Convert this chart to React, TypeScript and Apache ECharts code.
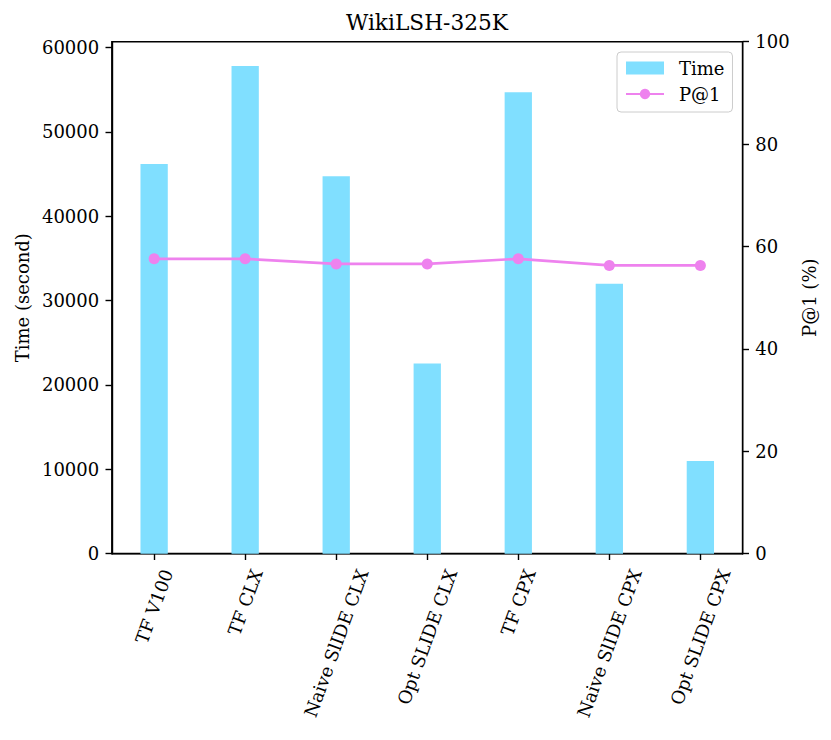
import { useEffect, useRef } from "react";
import * as echarts from "echarts";

const categories = [
  "TF V100",
  "TF CLX",
  "Naive SlIDE CLX",
  "Opt SLIDE CLX",
  "TF CPX",
  "Naive SlIDE CPX",
  "Opt SLIDE CPX",
];
const timeSeconds = [46200, 57800, 44750, 22560, 54700, 32000, 11000];
const precisionAt1 = [57.6, 57.6, 56.6, 56.6, 57.6, 56.3, 56.3];
const timeTicks = [0, 10000, 20000, 30000, 40000, 50000, 60000];
const precisionTicks = [0, 20, 40, 60, 80, 100];

const FONT = "DejaVu Serif";
const FS = 18;
const ROT = 70;

export default function App() {
  const ref = useRef<HTMLDivElement>(null);

  useEffect(() => {
    if (!ref.current) return;
    const chart = echarts.init(ref.current, null, { renderer: "svg" });

    // measure label lengths to center rotated labels like matplotlib
    const canvas = document.createElement("canvas");
    const ctx = canvas.getContext("2d")!;
    ctx.font = `${FS}px "${FONT}"`;
    const s = Math.sin((ROT * Math.PI) / 180);
    const c = Math.cos((ROT * Math.PI) / 180);
    const hM = FS * 1.17;
    const rich: Record<string, any> = {};
    categories.forEach((name, i) => {
      const L = ctx.measureText(name).width;
      const D = (L / 2) * s + (hM / 2) * c;
      rich["r" + i] = {
        fontFamily: FONT,
        fontSize: FS,
        color: "#000",
        padding: [2 * D * c, 2 * D * s, 0, 0],
      };
    });

    const idx = categories.map((_, i) => i);

    chart.setOption({
      animation: false,
      backgroundColor: "#fff",
      title: {
        text: "WikiLSH-325K",
        left: 427,
        textAlign: "center",
        top: 11,
        padding: 0,
        textStyle: { fontFamily: FONT, fontSize: 21.7, fontWeight: "normal", color: "#000" },
      },
      legend: {
        orient: "vertical",
        left: 617,
        top: 52,
        padding: [7, 8, 9, 8],
        itemWidth: 38,
        itemHeight: 13,
        itemGap: 8,
        borderColor: "#cccccc",
        borderWidth: 1,
        borderRadius: 4,
        textStyle: { fontFamily: FONT, fontSize: FS, color: "#000", lineHeight: 18, padding: [0, 0, 0, 10] },
        data: [{ name: "Time", icon: "rect" }, { name: "P@1" }],
      },
      grid: {
        left: 111.8,
        right: 88.3,
        top: 41.7,
        bottom: 186.3,
        show: true,
        borderColor: "#000",
        borderWidth: 1.4,
        backgroundColor: "transparent",
      },
      xAxis: {
        type: "value",
        min: -0.465,
        max: 6.465,
        splitLine: { show: false },
        axisLine: { onZero: false, lineStyle: { color: "#000", width: 1.4 } },
        axisTick: {
          customValues: idx,
          length: 6.3,
          lineStyle: { color: "#000", width: 1.4 },
        },
        axisLabel: {
          customValues: idx,
          rotate: ROT,
          align: "center",
          verticalAlign: "middle",
          margin: 12.6,
          color: "#000",
          fontFamily: FONT,
          fontSize: FS,
          formatter: (v: number) => {
            const i = Math.round(v);
            return `{r${i}|${categories[i]}}`;
          },
          rich,
        },
      },
      yAxis: [
        {
          type: "value",
          min: 0,
          max: 60690,
          name: "Time (second)",
          nameLocation: "middle",
          nameRotate: 90,
          nameGap: 78,
          nameTextStyle: { fontFamily: FONT, fontSize: FS, color: "#000" },
          splitLine: { show: false },
          axisLine: { show: true, onZero: false, lineStyle: { color: "#000", width: 1.4 } },
          axisTick: { show: true, customValues: timeTicks, length: 6.3, lineStyle: { color: "#000", width: 1.4 } },
          axisLabel: {
            customValues: timeTicks,
            margin: 12.6,
            color: "#000",
            fontFamily: FONT,
            fontSize: FS,
            formatter: (v: number) => String(v),
          },
        },
        {
          type: "value",
          min: 0,
          max: 100,
          interval: 20,
          position: "right",
          name: "P@1 (%)",
          nameLocation: "middle",
          nameRotate: 90,
          nameGap: 56,
          nameTextStyle: { fontFamily: FONT, fontSize: FS, color: "#000" },
          splitLine: { show: false },
          axisLine: { show: true, onZero: false, lineStyle: { color: "#000", width: 1.4 } },
          axisTick: { show: true, customValues: precisionTicks, length: 6.3, lineStyle: { color: "#000", width: 1.4 } },
          axisLabel: {
            customValues: precisionTicks,
            margin: 12.6,
            color: "#000",
            fontFamily: FONT,
            fontSize: FS,
            formatter: (v: number) => String(v),
          },
        },
      ],
      series: [
        {
          name: "Time",
          type: "bar",
          yAxisIndex: 0,
          barWidth: 27.3,
          itemStyle: { color: "#80dfff" },
          data: timeSeconds.map((v, i) => [i, v]),
        },
        {
          name: "P@1",
          type: "line",
          yAxisIndex: 1,
          symbol: "circle",
          symbolSize: 11,
          lineStyle: { color: "#ee82ee", width: 2.7 },
          itemStyle: { color: "#ee82ee" },
          data: precisionAt1.map((v, i) => [i, v]),
        },
      ],
    });

    return () => chart.dispose();
  }, []);

  return (
    <div
      ref={ref}
      style={{ position: "fixed", left: 0, top: 0, width: 831, height: 740 }}
    />
  );
}
